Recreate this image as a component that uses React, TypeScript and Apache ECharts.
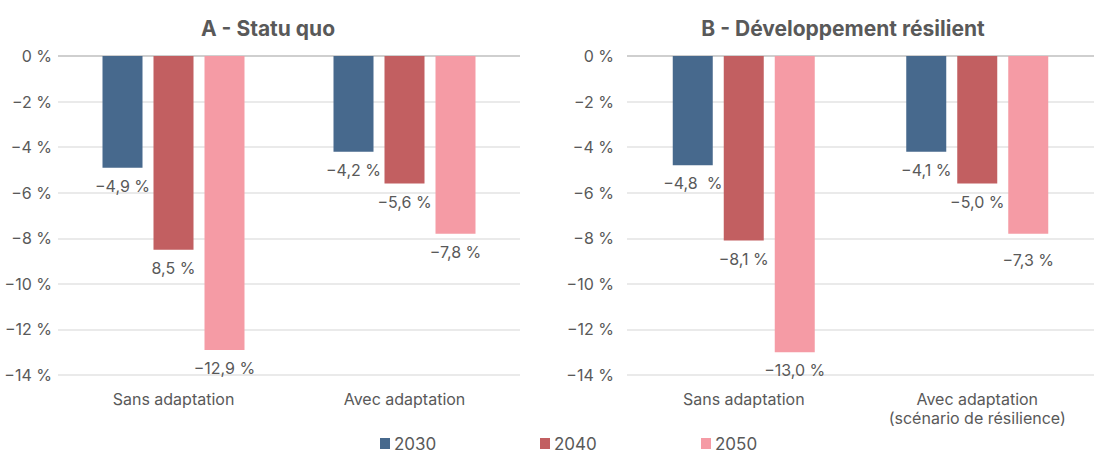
import React, { useEffect, useRef } from "react";
import * as echarts from "echarts";

const categoriesA = ["Sans adaptation", "Avec adaptation"];
const categoriesB = ["Sans adaptation", "Avec adaptation\n(scénario de résilience)"];
const years = ["2030", "2040", "2050"];
const titles = ["A - Statu quo", "B - Développement résilient"];

const valuesA2030 = [-4.9, -4.2];
const valuesA2040 = [-8.5, -5.6];
const valuesA2050 = [-12.9, -7.8];
const valuesB2030 = [-4.8, -4.2];
const valuesB2040 = [-8.1, -5.6];
const valuesB2050 = [-13.0, -7.8];

const labelsA2030 = ["−4,9 %", "−4,2 %"];
const labelsA2040 = ["8,5 %", "−5,6 %"];
const labelsA2050 = ["−12,9 %", "−7,8 %"];
const labelsB2030 = ["−4,8  %", "−4,1 %"];
const labelsB2040 = ["−8,1 %", "−5,0 %"];
const labelsB2050 = ["−13,0 %", "−7,3 %"];

const colors = ["#47698D", "#C25F61", "#F59BA5"];
const textColor = "#595959";
const FONT = "Inter, 'Noto Sans', sans-serif";
const legendLefts = [380, 540, 701];

export default function App() {
  const ref = useRef<HTMLDivElement>(null);
  useEffect(() => {
    document.body.style.margin = "0";
    const chart = echarts.init(ref.current!, undefined, { renderer: "svg" });
    const mkSeries = (
      name: string,
      values: number[],
      labels: string[],
      axis: number,
      color: string,
      extraDist: number[] = [0, 0]
    ) => ({
      name,
      type: "bar",
      xAxisIndex: axis,
      yAxisIndex: axis,
      barWidth: 40,
      barGap: "27.5%",
      itemStyle: { color },
      data: values.map((v, i) => ({
        value: v,
        label: {
          show: true,
          position: "bottom",
          distance: 10 + extraDist[i],
          formatter: () => labels[i],
          color: textColor,
          fontSize: 16,
          fontFamily: FONT,
        },
      })),
    });
    const yAxis = (idx: number, margin: number) => ({
      type: "value",
      gridIndex: idx,
      min: -14,
      max: 0,
      interval: 2,
      axisLine: { show: false },
      axisTick: { show: false },
      axisLabel: {
        color: textColor,
        fontSize: 16,
        fontFamily: FONT,
        margin,
        formatter: (v: number) => (v === 0 ? "0 %" : "−" + Math.abs(v) + " %"),
      },
      splitLine: {
        lineStyle: {
          color: ["#E3E3E3", "#E3E3E3", "#E3E3E3", "#E3E3E3", "#E3E3E3", "#E3E3E3", "#E3E3E3", "#BFBFBF"],
          width: 1.5,
        },
      },
    });
    const xAxis = (idx: number, cats: string[]) => ({
      type: "category",
      gridIndex: idx,
      data: cats,
      position: "bottom",
      axisLine: { show: false, onZero: false },
      axisTick: { show: false },
      axisLabel: {
        color: textColor,
        fontSize: 16,
        fontFamily: FONT,
        margin: 14,
        lineHeight: 19,
      },
    });
    const titleStyle = { color: textColor, fontSize: 21, fontWeight: 700, fontFamily: FONT };
    chart.setOption({
      animation: false,
      title: [
        { text: titles[0], left: 263, top: 13, textAlign: "center", textStyle: titleStyle },
        { text: titles[1], left: 838, top: 13, textAlign: "center", textStyle: titleStyle },
      ],
      legend: years.map((y, i) => ({
        data: [y],
        left: legendLefts[i],
        top: 435,
        padding: 0,
        itemWidth: 10,
        itemHeight: 11,
        itemGap: 4,
        icon: "rect",
        textStyle: { color: textColor, fontSize: 17, fontFamily: FONT, padding: [0, 0, 0, -1] },
      })),
      grid: [
        { left: 58, right: 1118 - 520, top: 56, bottom: 453 - 375 },
        { left: 627, right: 1118 - 1094, top: 56, bottom: 453 - 375 },
      ],
      xAxis: [xAxis(0, categoriesA), xAxis(1, categoriesB)],
      yAxis: [yAxis(0, 6), yAxis(1, 13)],
      series: [
        mkSeries(years[0], valuesA2030, labelsA2030, 0, colors[0]),
        mkSeries(years[1], valuesA2040, labelsA2040, 0, colors[1]),
        mkSeries(years[2], valuesA2050, labelsA2050, 0, colors[2]),
        mkSeries(years[0], valuesB2030, labelsB2030, 1, colors[0]),
        mkSeries(years[1], valuesB2040, labelsB2040, 1, colors[1]),
        mkSeries(years[2], valuesB2050, labelsB2050, 1, colors[2], [0, 8]),
      ],
    });
    return () => chart.dispose();
  }, []);
  return <div ref={ref} style={{ position: "absolute", left: 0, top: 0, width: 1118, height: 453 }} />;
}
